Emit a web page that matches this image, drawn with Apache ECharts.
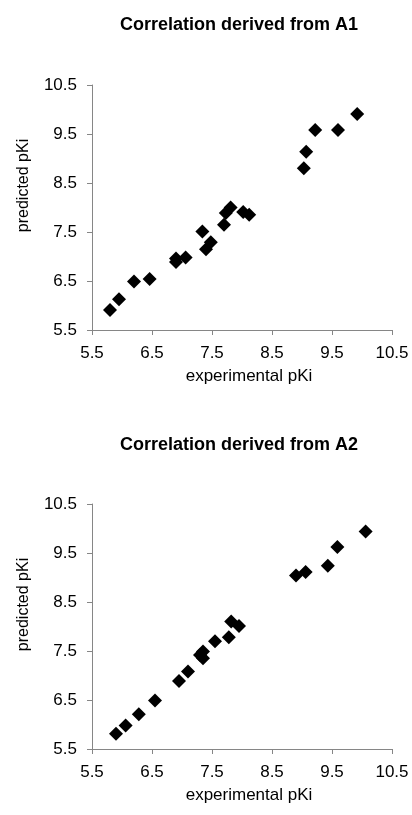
<!DOCTYPE html>
<html>
<head>
<meta charset="utf-8">
<script src="https://cdn.jsdelivr.net/npm/echarts@6/dist/echarts.min.js"></script>
<style>
html,body{margin:0;padding:0;background:#fff;}
#chart{width:412px;height:815px;}
</style>
</head>
<body>
<div id="chart"></div>
<script>
const titles = ['Correlation derived from A1', 'Correlation derived from A2'];
const xName = 'experimental pKi';
const yName = 'predicted pKi';
const tickValues = [5.5, 6.5, 7.5, 8.5, 9.5, 10.5];

const a1Experimental = [5.80, 5.95, 6.20, 6.46, 6.90, 6.90, 7.06, 7.34, 7.40, 7.48, 7.70, 7.73, 7.81, 8.02, 8.12, 9.03, 9.07, 9.22, 9.60, 9.92];
const a1Predicted    = [5.91, 6.13, 6.49, 6.54, 6.96, 6.89, 6.98, 7.51, 7.15, 7.29, 7.65, 7.89, 8.00, 7.91, 7.85, 8.80, 9.14, 9.58, 9.58, 9.91];

const a2Experimental = [5.90, 6.06, 6.28, 6.55, 6.95, 7.10, 7.30, 7.35, 7.35, 7.55, 7.78, 7.82, 7.95, 8.90, 9.06, 9.43, 9.59, 10.06];
const a2Predicted    = [5.81, 5.98, 6.21, 6.49, 6.89, 7.08, 7.42, 7.49, 7.35, 7.70, 7.78, 8.10, 8.01, 9.04, 9.11, 9.24, 9.62, 9.94];

const FONT = 'Liberation Sans, Arial, sans-serif';

function pairs(xs, ys) { return xs.map((x, i) => [x, ys[i]]); }

function xAxisCfg(gridIndex) {
  return {
    gridIndex, type: 'value', min: tickValues[0], max: tickValues[tickValues.length - 1], interval: 1,
    name: xName, nameLocation: 'middle', nameGap: 38,
    nameTextStyle: { fontFamily: FONT, fontSize: 17, color: '#000', padding: [0, 0, 0, 14] },
    axisLine: { show: true, lineStyle: { color: '#868686', width: 1 } },
    axisTick: { show: true, length: 5, lineStyle: { color: '#868686' } },
    axisLabel: { fontFamily: FONT, fontSize: 17, color: '#000', margin: 15, formatter: v => v.toFixed(1) },
    splitLine: { show: false }
  };
}
function yAxisCfg(gridIndex) {
  return {
    gridIndex, type: 'value', min: tickValues[0], max: tickValues[tickValues.length - 1], interval: 1,
    name: yName, nameLocation: 'middle', nameGap: 60, nameRotate: 90,
    nameTextStyle: { fontFamily: FONT, fontSize: 16, color: '#000', padding: [0, 0, 0, 44] },
    axisLine: { show: true, lineStyle: { color: '#868686', width: 1 } },
    axisTick: { show: true, length: 5, lineStyle: { color: '#868686' } },
    axisLabel: { fontFamily: FONT, fontSize: 17, color: '#000', margin: 15, formatter: v => v.toFixed(1) },
    splitLine: { show: false }
  };
}

const chart = echarts.init(document.getElementById('chart'), null, { renderer: 'canvas' });
chart.setOption({
  backgroundColor: '#fff',
  animation: false,
  title: [
    { text: titles[0], left: 115, top: 11, textStyle: { fontFamily: FONT, fontSize: 18, fontWeight: 'bold', color: '#000' } },
    { text: titles[1], left: 115, top: 431, textStyle: { fontFamily: FONT, fontSize: 18, fontWeight: 'bold', color: '#000' } }
  ],
  grid: [
    { left: 92, right: 20, top: 85, height: 245 },
    { left: 92, right: 20, top: 504, height: 245 }
  ],
  xAxis: [xAxisCfg(0), xAxisCfg(1)],
  yAxis: [yAxisCfg(0), yAxisCfg(1)],
  series: [
    { type: 'scatter', xAxisIndex: 0, yAxisIndex: 0, symbol: 'diamond', symbolSize: 14,
      itemStyle: { color: '#000', opacity: 1 }, data: pairs(a1Experimental, a1Predicted) },
    { type: 'scatter', xAxisIndex: 1, yAxisIndex: 1, symbol: 'diamond', symbolSize: 14,
      itemStyle: { color: '#000', opacity: 1 }, data: pairs(a2Experimental, a2Predicted) }
  ]
});
</script>
</body>
</html>
